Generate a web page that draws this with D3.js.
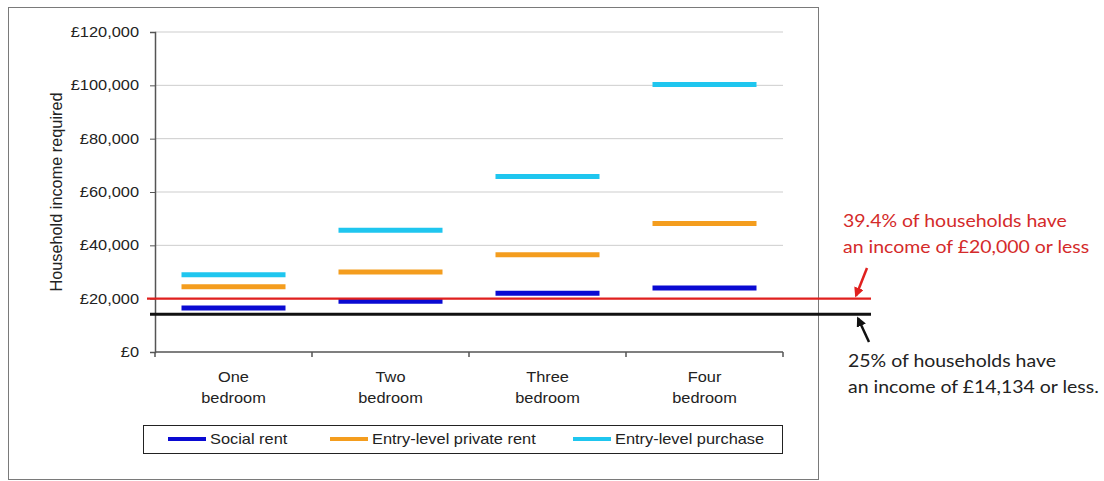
<!DOCTYPE html>
<html><head><meta charset="utf-8">
<script src="https://cdn.jsdelivr.net/npm/d3@7"></script>
<style>body{margin:0;background:#fff;} text{font-family:"Liberation Sans",Arial,sans-serif;}</style>
</head><body>
<svg id="c" width="1104" height="481"></svg>
<script>
const categories = [["One","bedroom"],["Two","bedroom"],["Three","bedroom"],["Four","bedroom"]];
const seriesNames = ["Social rent","Entry-level private rent","Entry-level purchase"];
const socialRent = [16500, 19000, 22000, 24000];
const privateRent = [24500, 30000, 36500, 48200];
const purchase = [29000, 45700, 65800, 100300];
const yTicks = [0,20000,40000,60000,80000,100000,120000];
const threshold20 = 20000;
const threshold25pc = 14134;
const colors = ["#0a0ad2","#f49d1e","#1fc6ef"];
const SX = 1.17; // horizontal stretch of the reference text

const svg = d3.select("#c");
function label(parent, x, y, str, size, anchor, fill, family, sx){
  const t = parent.append("text").attr("transform",`translate(${x},${y}) scale(${sx||SX},1)`)
    .attr("x",0).attr("y",0).attr("font-size",size).attr("text-anchor",anchor||"start")
    .attr("fill",fill||"#222").text(str);
  if(family) t.style("font-family",family);
  return t;
}

// outer chart frame
svg.append("rect").attr("x",8.5).attr("y",7.5).attr("width",810).attr("height",472)
  .attr("fill","none").attr("stroke","#7a7a7a").attr("stroke-width",1);

const x = d3.scaleBand().domain(d3.range(4)).range([155,783]).paddingInner(0).paddingOuter(0);
const y = d3.scaleLinear().domain([0,120000]).range([352,32]);

// gridlines
svg.append("g").selectAll("line").data(yTicks.filter(d=>d>0)).join("line")
  .attr("x1",155).attr("x2",783).attr("y1",d=>y(d)).attr("y2",d=>y(d))
  .attr("stroke","#cdcdcd").attr("stroke-width",1);

// y axis
const yAxis = svg.append("g").attr("transform","translate(155,0)")
  .call(d3.axisLeft(y).tickValues(yTicks).tickSize(5).tickPadding(7)
    .tickFormat(d=>"£"+d3.format(",")(d)));
yAxis.select(".domain").attr("stroke","#555").attr("stroke-width",1.5);
yAxis.selectAll(".tick line").attr("stroke","#555");
yAxis.selectAll("text").attr("font-size",14).attr("fill","#222")
  .attr("x",-16/SX).attr("transform",`scale(${SX},1)`)
  .style("font-family","'Liberation Sans',Arial,sans-serif");

// x axis
const xAxisG = svg.append("g").attr("transform","translate(0,352)");
xAxisG.append("line").attr("x1",155).attr("x2",783).attr("stroke","#555").attr("stroke-width",1.5);
xAxisG.selectAll(".tk").data(d3.range(5)).join("line")
  .attr("x1",d=>155+d*x.bandwidth()).attr("x2",d=>155+d*x.bandwidth())
  .attr("y1",0).attr("y2",5).attr("stroke","#555").attr("stroke-width",1.5);
categories.forEach((c,i)=>{
  const cx = x(i)+x.bandwidth()/2;
  label(svg, cx, 382, c[0], 14, "middle");
  label(svg, cx, 403, c[1], 14, "middle");
});

// y axis title
svg.append("text").attr("transform","translate(62,192) rotate(-90)")
  .attr("text-anchor","middle").attr("font-size",16.3).attr("fill","#222")
  .text("Household income required");

// marks
const barW = 104;
const allSeries = [socialRent, privateRent, purchase];
allSeries.forEach((vals,si)=>{
  svg.append("g").selectAll("line").data(vals).join("line")
    .attr("x1",(d,i)=>x(i)+x.bandwidth()/2-barW/2)
    .attr("x2",(d,i)=>x(i)+x.bandwidth()/2+barW/2)
    .attr("y1",d=>y(d)).attr("y2",d=>y(d))
    .attr("stroke",colors[si]).attr("stroke-width",5);
});

// threshold lines
svg.append("line").attr("x1",147).attr("x2",871).attr("y1",y(threshold20)).attr("y2",y(threshold20))
  .attr("stroke","#e0201e").attr("stroke-width",2.2);
svg.append("line").attr("x1",150).attr("x2",871).attr("y1",y(threshold25pc)).attr("y2",y(threshold25pc))
  .attr("stroke","#111").attr("stroke-width",3);

// arrows
const defs = svg.append("defs");
defs.append("marker").attr("id","ar").attr("viewBox","0 0 10 10").attr("refX",8).attr("refY",5)
  .attr("markerWidth",4).attr("markerHeight",4).attr("orient","auto")
  .append("path").attr("d","M0,0 L10,5 L0,10 z").attr("fill","#e0201e");
defs.append("marker").attr("id","ab").attr("viewBox","0 0 10 10").attr("refX",8).attr("refY",5)
  .attr("markerWidth",4).attr("markerHeight",4).attr("orient","auto")
  .append("path").attr("d","M0,0 L10,5 L0,10 z").attr("fill","#111");
svg.append("line").attr("x1",867).attr("y1",268).attr("x2",856).attr("y2",y(threshold20)-3)
  .attr("stroke","#e0201e").attr("stroke-width",2.5).attr("marker-end","url(#ar)");
svg.append("line").attr("x1",869).attr("y1",342).attr("x2",858).attr("y2",y(threshold25pc)+4)
  .attr("stroke","#111").attr("stroke-width",2.5).attr("marker-end","url(#ab)");

// annotations
const annF = "Lato,'Open Sans',sans-serif";
label(svg, 843, 227, "39.4% of households have", 16.5, "start", "#d42a2a", annF, 1.18);
label(svg, 843, 253, "an income of £20,000 or less", 16.5, "start", "#d42a2a", annF, 1.18);
label(svg, 848, 367, "25% of households have", 16.5, "start", "#222", annF, 1.18);
label(svg, 848, 393, "an income of £14,134 or less.", 16.5, "start", "#222", annF, 1.18);

// legend
svg.append("rect").attr("x",143.5).attr("y",425.5).attr("width",639).attr("height",28)
  .attr("fill","#fff").attr("stroke","#222").attr("stroke-width",1);
const legX = [168, 330, 573];
seriesNames.forEach((name,i)=>{
  svg.append("line").attr("x1",legX[i]).attr("x2",legX[i]+38).attr("y1",439).attr("y2",439)
    .attr("stroke",colors[i]).attr("stroke-width",4);
  label(svg, legX[i]+42, 444, name, 14, "start");
});
</script>
</body></html>
